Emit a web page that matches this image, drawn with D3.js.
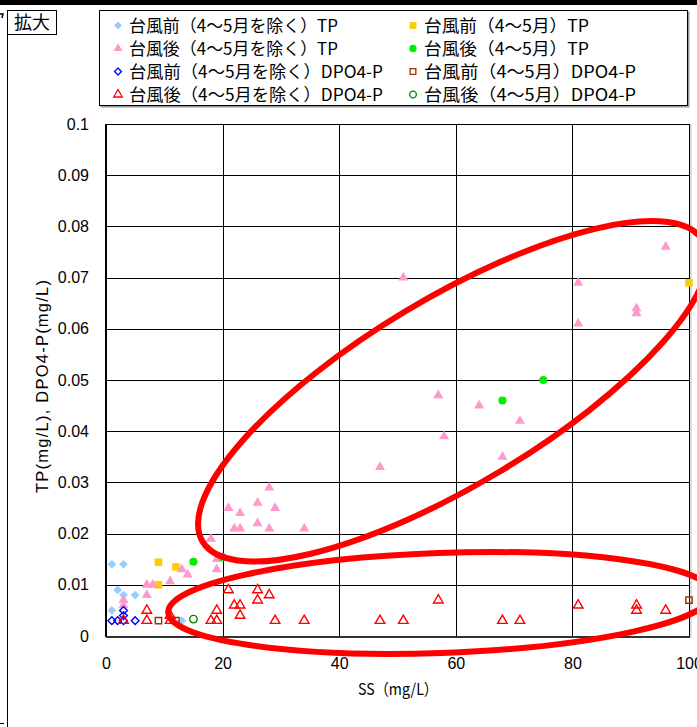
<!DOCTYPE html>
<html><head><meta charset="utf-8">
<script src="https://cdn.jsdelivr.net/npm/d3@7"></script>
<style>body{margin:0;background:#fff}svg{display:block}</style></head>
<body><svg id="c" width="697" height="727"></svg>
<script>
// ---------- data (SS mg/L, value mg/L) ----------
const seriesNames = [
  "台風前（4〜5月を除く）TP", "台風前（4〜5月）TP",
  "台風後（4〜5月を除く）TP", "台風後（4〜5月）TP",
  "台風前（4〜5月を除く）DPO4-P", "台風前（4〜5月）DPO4-P",
  "台風後（4〜5月を除く）DPO4-P", "台風後（4〜5月）DPO4-P"
];
const tpBeforeExcl = [[1,0.014],[3,0.014],[2,0.009],[3,0.008],[5,0.008],[1,0.005],[13,0.003]];
const tpBefore45 = [[9,0.0144],[12,0.0135],[9,0.010],[100,0.069]];
const tpAfterExcl = [[7,0.010],[8,0.010],[11,0.0107],[13,0.013],[14,0.012],[7,0.008],[3,0.007],[3,0.006],
  [19,0.015],[19,0.013],[18,0.019],[21,0.025],[22,0.021],[23,0.021],[23,0.024],[26,0.026],[26,0.022],
  [28,0.029],[28,0.021],[29,0.025],[34,0.021],[47,0.033],[51,0.070],[57,0.047],[58,0.039],[64,0.045],
  [68,0.035],[71,0.042],[81,0.069],[81,0.061],[91,0.064],[91,0.063],[96,0.076]];
const tpAfter45 = [[15,0.0145],[20,0.0154],[68,0.046],[75,0.050]];
const dpBeforeExcl = [[1,0.003],[2,0.003],[3,0.003],[3,0.004],[3,0.005],[5,0.003]];
const dpBefore45 = [[9,0.003],[12,0.003],[100,0.007]];
const dpAfterExcl = [[3,0.003],[7,0.005],[7,0.003],[11,0.004],[11,0.003],[18,0.003],[19,0.003],[19,0.005],
  [21,0.009],[22,0.006],[23,0.006],[23,0.004],[26,0.009],[26,0.007],[28,0.008],[29,0.003],[34,0.003],
  [47,0.003],[51,0.003],[57,0.007],[68,0.003],[71,0.003],[81,0.006],[91,0.006],[91,0.005],[96,0.005]];
const dpAfter45 = [[15,0.0033]];
const xTickValues = [0,20,40,60,80,100];
const yTickValues = [0,0.01,0.02,0.03,0.04,0.05,0.06,0.07,0.08,0.09,0.1];
const yTickLabels = ["0","0.01","0.02","0.03","0.04","0.05","0.06","0.07","0.08","0.09","0.1"];
// annotation ellipses: centre in data units
const ellipseCentres = [[59.5,0.0478],[57.3,0.00645]];

// ---------- layout ----------
const svg = d3.select("#c");
const W = 697, H = 727;
const P = {left:106, right:689, top:124, bottom:636};
const x = d3.scaleLinear().domain([0,100]).range([P.left,P.right]);
const y = d3.scaleLinear().domain([0,0.1]).range([P.bottom,P.top]);
const NUM = "'Liberation Sans', Arial, sans-serif";
const JP = "'Noto Sans CJK JP', 'Noto Sans', sans-serif";

svg.append("rect").attr("width",W).attr("height",H).attr("fill","#fff");
// page frame bits
svg.append("rect").attr("x",0).attr("y",0).attr("width",W).attr("height",5).attr("fill","#000");
svg.append("line").attr("x1",7.5).attr("x2",7.5).attr("y1",10).attr("y2",H).attr("stroke","#000");
svg.append("path").attr("d","M0,14 L3,14 L2,18").attr("fill","none").attr("stroke","#000").attr("stroke-width",1.5);
svg.append("line").attr("x1",0).attr("x2",4).attr("y1",723.5).attr("y2",723.5).attr("stroke","#000");

// 拡大 box
svg.append("rect").attr("x",7.5).attr("y",10.5).attr("width",49).attr("height",24)
  .attr("fill","#fff").attr("stroke","#000");
svg.append("text").attr("x",32).attr("y",29).attr("text-anchor","middle")
  .attr("font-family",JP).attr("font-size",18).text("拡大");

// grid
const g = svg.append("g");
g.selectAll("line.h").data(yTickValues).join("line")
  .attr("x1",P.left).attr("x2",P.right)
  .attr("y1",d=>Math.round(y(d))+0.5).attr("y2",d=>Math.round(y(d))+0.5)
  .attr("stroke","#000").attr("stroke-width",1);
g.selectAll("line.v").data(xTickValues).join("line")
  .attr("y1",P.top).attr("y2",P.bottom)
  .attr("x1",d=>Math.round(x(d))+0.5).attr("x2",d=>Math.round(x(d))+0.5)
  .attr("stroke","#000").attr("stroke-width",1);
// plot frame
svg.append("line").attr("x1",P.left).attr("x2",P.left).attr("y1",P.top).attr("y2",P.bottom+1)
  .attr("stroke","#000").attr("stroke-width",2);
svg.append("line").attr("x1",P.left).attr("x2",P.right+1).attr("y1",P.bottom+1).attr("y2",P.bottom+1)
  .attr("stroke","#333").attr("stroke-width",2);
svg.append("line").attr("x1",P.right+2).attr("x2",P.right+2).attr("y1",P.top).attr("y2",P.bottom+2)
  .attr("stroke","#bbb").attr("stroke-width",1);

// axes
const ya = svg.append("g").attr("transform",`translate(${P.left},0)`)
  .call(d3.axisLeft(y).tickValues(yTickValues).tickFormat((d,i)=>yTickLabels[i]).tickSize(0).tickPadding(17));
const xa = svg.append("g").attr("transform",`translate(0,${P.bottom})`)
  .call(d3.axisBottom(x).tickValues(xTickValues).tickFormat(d3.format("d")).tickSize(0).tickPadding(22));
[ya,xa].forEach(a=>{a.select(".domain").remove();
  a.selectAll("text").attr("font-family",NUM).attr("font-size",16).attr("fill","#000");});

// axis titles
svg.append("text").attr("x",398).attr("y",695).attr("text-anchor","middle")
  .attr("font-family",JP).attr("font-size",16).attr("textLength",80).attr("lengthAdjust","spacingAndGlyphs")
  .text("SS（mg/L）");
svg.append("text").attr("transform","translate(48,386.5) rotate(-90)").attr("text-anchor","middle")
  .attr("font-family",NUM).attr("font-size",16.5).attr("textLength",213).attr("lengthAdjust","spacing")
  .text("TP(mg/L), DPO4-P(mg/L)");

// symbols
const diamond = {draw(ctx,size){const h=Math.sqrt(size/2);ctx.moveTo(0,-h);ctx.lineTo(h,0);ctx.lineTo(0,h);ctx.lineTo(-h,0);ctx.closePath();}};
const styles = [
  {data:tpBeforeExcl, type:diamond, size:38, fill:"#99CCFF", stroke:"none"},
  {data:tpBefore45, type:d3.symbolSquare, size:58, fill:"#FFCC00", stroke:"none"},
  {data:tpAfterExcl, type:d3.symbolTriangle, size:44, fill:"#FF99CC", stroke:"none"},
  {data:tpAfter45, type:d3.symbolCircle, size:52, fill:"#00EE00", stroke:"none"},
  {data:dpBeforeExcl, type:diamond, size:30, fill:"none", stroke:"#0000FF"},
  {data:dpBefore45, type:d3.symbolSquare, size:40, fill:"none", stroke:"#993300"},
  {data:dpAfterExcl, type:d3.symbolTriangle, size:40, fill:"none", stroke:"#FF0000"},
  {data:dpAfter45, type:d3.symbolCircle, size:44, fill:"none", stroke:"#008000"}
];
const pts = svg.append("g");
styles.forEach(s=>{
  pts.append("g").selectAll("path").data(s.data).join("path")
    .attr("transform",d=>`translate(${x(d[0])},${y(d[1])})`)
    .attr("d",d3.symbol().type(s.type).size(s.size)())
    .attr("fill",s.fill).attr("stroke",s.stroke).attr("stroke-width",1.4);
});

// legend
svg.append("rect").attr("x",100.5).attr("y",11.5).attr("width",589).attr("height",96).attr("fill","#999");
svg.append("rect").attr("x",99.5).attr("y",10.5).attr("width",588).attr("height",95)
  .attr("fill","#fff").attr("stroke","#000");
const legLens = [209,165,209,165,254,212,254,212];
styles.forEach((s,i)=>{
  const col = i%2, row = Math.floor(i/2);
  const mx = col ? 413 : 118, cy = 25.5 + row*23;
  svg.append("path").attr("transform",`translate(${mx},${cy})`)
    .attr("d",d3.symbol().type(s.type).size(s.size*0.8)())
    .attr("fill",s.fill).attr("stroke",s.stroke).attr("stroke-width",1.3);
  svg.append("text").attr("x",mx+11).attr("y",cy+6)
    .attr("font-family",JP).attr("font-size",17)
    .attr("textLength",legLens[i]).attr("lengthAdjust","spacingAndGlyphs")
    .text(seriesNames[i]);
});

// red annotation ellipses
const ellSpec = [{rx:292, ry:93, rot:-31},{rx:272, ry:50, rot:-2}];
ellipseCentres.forEach((c,i)=>{
  svg.append("ellipse").attr("cx",0).attr("cy",0).attr("rx",ellSpec[i].rx).attr("ry",ellSpec[i].ry)
    .attr("transform",`translate(${x(c[0])},${y(c[1])}) rotate(${ellSpec[i].rot})`)
    .attr("fill","none").attr("stroke","#FF0000").attr("stroke-width",6);
});
</script></body></html>
